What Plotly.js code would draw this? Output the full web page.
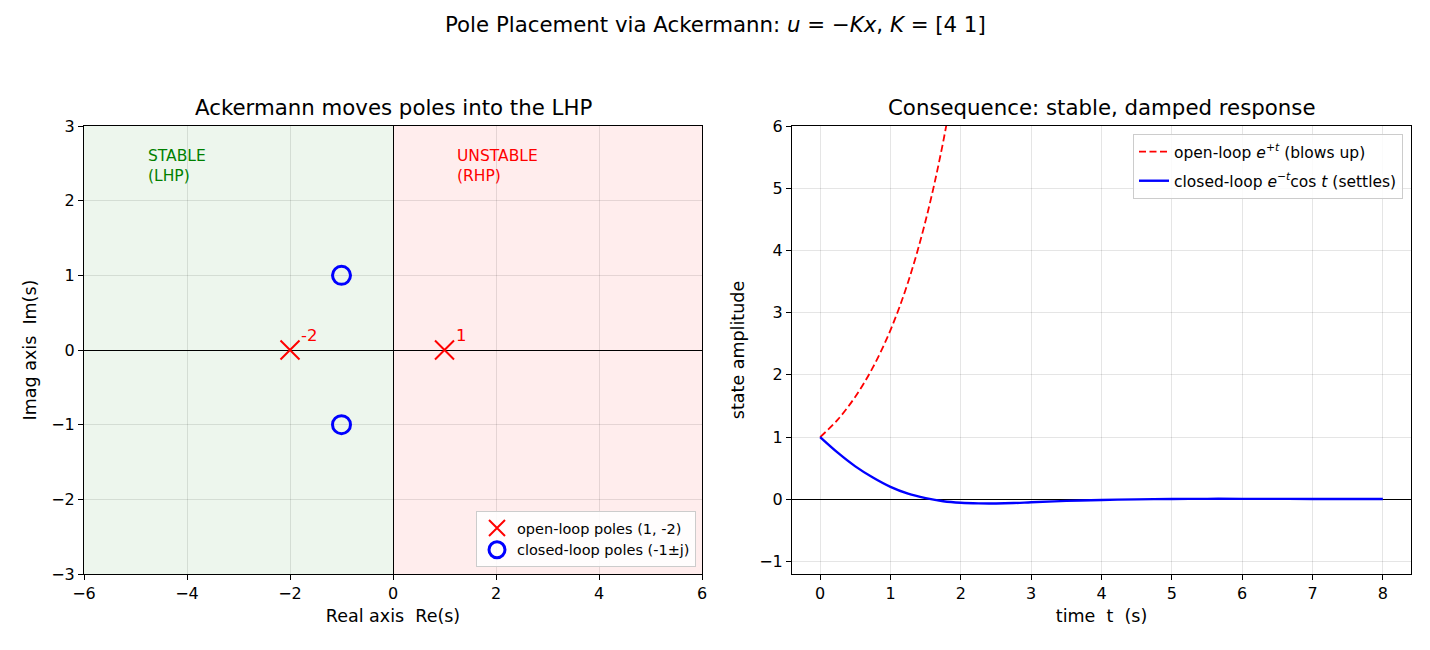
<!DOCTYPE html>
<html>
<head>
<meta charset="utf-8">
<script src="https://cdn.plot.ly/plotly-3.0.1.min.js"></script>
<style>html,body{margin:0;padding:0;background:#fff;}#chart{width:1430px;height:650px;}</style>
</head>
<body>
<div id="chart"></div>
<script>
// ---- data ----
const openLoopPolesRe = [1, -2];
const openLoopPolesIm = [0, 0];
const openLoopPoleLabels = ["1", "-2"];
const closedLoopPolesRe = [-1, -1];
const closedLoopPolesIm = [1, -1];

const tOpen = [0, 0.25, 0.5, 0.75, 1.0, 1.25, 1.5, 1.75, 2.0];
const yOpen = [1.0, 1.28, 1.65, 2.12, 2.72, 3.49, 4.48, 5.75, 7.39];

const tClosed = [0, 0.25, 0.5, 0.75, 1.0, 1.25, 1.5, 1.75, 2.0, 2.25, 2.5, 2.75, 3.0, 3.5, 4.0, 4.5, 5.0, 5.5, 6.0, 7.0, 8.0];
const yClosed = [1.0, 0.75, 0.53, 0.35, 0.20, 0.09, 0.02, -0.03, -0.055, -0.065, -0.066, -0.06, -0.048, -0.025, -0.01, 0.0, 0.005, 0.008, 0.008, 0.006, 0.005];

const leftXTicks = [-6, -4, -2, 0, 2, 4, 6];
const leftYTicks = [-3, -2, -1, 0, 1, 2, 3];
const rightXTicks = [0, 1, 2, 3, 4, 5, 6, 7, 8];
const rightYTicks = [-1, 0, 1, 2, 3, 4, 5, 6];

// ---- styling ----
const FONT = "DejaVu Sans, sans-serif";
const grid = "rgba(0,0,0,0.1)";
const TICK = 16;
const LABEL = 17.5;
const TITLE = 21.3;

const traces = [
  {
    x: openLoopPolesRe, y: openLoopPolesIm, type: "scatter", mode: "markers",
    name: "open-loop poles (1, -2)", xaxis: "x", yaxis: "y", legend: "legend", legendgroup: "a",
    marker: {symbol: "x-thin-open", size: 19, color: "red", line: {color: "red", width: 2}}
  },
  {
    x: closedLoopPolesRe, y: closedLoopPolesIm, type: "scatter", mode: "markers",
    name: "closed-loop poles (-1±j)", xaxis: "x", yaxis: "y", legend: "legend", legendgroup: "b",
    marker: {symbol: "circle-open", size: 18, color: "blue", line: {color: "blue", width: 3}}
  },
  {
    x: tOpen, y: yOpen, type: "scatter", mode: "lines",
    name: "open-loop <i>e</i><sup>+<i>t</i></sup> (blows up)", xaxis: "x2", yaxis: "y2", legend: "legend2", legendgroup: "c",
    line: {color: "red", width: 1.8, dash: "7px,3.5px", shape: "spline"}
  },
  {
    x: tClosed, y: yClosed, type: "scatter", mode: "lines",
    name: "closed-loop <i>e</i><sup>−<i>t</i></sup>cos <i>t</i> (settles)", xaxis: "x2", yaxis: "y2", legend: "legend2", legendgroup: "d",
    line: {color: "blue", width: 2.4, shape: "spline"}
  }
];

function axisBase(extra) {
  return Object.assign({
    showline: true, mirror: true, linecolor: "black", linewidth: 1,
    ticks: "outside", ticklen: 5, tickcolor: "black", tickwidth: 1,
    showgrid: true, gridcolor: grid, gridwidth: 1,
    tickfont: {family: FONT, size: TICK, color: "black"},
    tickmode: "array", zeroline: false, zerolinecolor: "black", zerolinewidth: 1, fixedrange: true
  }, extra);
}

const annotations = [
  {text: "Pole Placement via Ackermann: <i>u</i> = −<i>Kx</i>, <i>K</i> = [4 1]", xref: "paper", yref: "paper",
   x: 0.5, y: 1 - 24/650, xanchor: "center", yanchor: "middle", showarrow: false,
   font: {family: FONT, size: TITLE, color: "black"}},
  {text: "Ackermann moves poles into the LHP", xref: "paper", yref: "paper",
   x: (84 + 702) / 2 / 1430, y: 1 - 107/650, xanchor: "center", yanchor: "middle", showarrow: false,
   font: {family: FONT, size: TITLE, color: "black"}},
  {text: "Consequence: stable, damped response", xref: "paper", yref: "paper",
   x: (792 + 1411) / 2 / 1430, y: 1 - 107/650, xanchor: "center", yanchor: "middle", showarrow: false,
   font: {family: FONT, size: TITLE, color: "black"}},
  {text: "STABLE<br>(LHP)", xref: "x", yref: "y", x: -4.8, y: 2.74, xanchor: "left", yanchor: "top",
   align: "left", showarrow: false, font: {family: FONT, size: 15.5, color: "green"}},
  {text: "UNSTABLE<br>(RHP)", xref: "x", yref: "y", x: 1.2, y: 2.74, xanchor: "left", yanchor: "top",
   align: "left", showarrow: false, font: {family: FONT, size: 15.5, color: "red"}}
];
openLoopPoleLabels.forEach((lab, i) => {
  annotations.push({text: lab, xref: "x", yref: "y", x: openLoopPolesRe[i], y: openLoopPolesIm[i],
    xanchor: "left", yanchor: "bottom", xshift: 9, yshift: 3, showarrow: false,
    font: {family: FONT, size: 16.5, color: "red"}});
});

const layout = {
  width: 1430, height: 650,
  margin: {l: 0, r: 0, t: 0, b: 0},
  paper_bgcolor: "white", plot_bgcolor: "white",
  font: {family: FONT, color: "black"},
  showlegend: true,
  xaxis: axisBase({domain: [84/1430, 702/1430], range: [-6, 6], tickvals: leftXTicks, anchor: "y", zeroline: true,
    title: {text: "Real axis\u00a0\u00a0Re(s)", font: {family: FONT, size: LABEL}, standoff: 7}}),
  yaxis: axisBase({domain: [1 - 574/650, 1 - 126/650], range: [-3, 3], tickvals: leftYTicks, anchor: "x", zeroline: true,
    title: {text: "Imag axis\u00a0\u00a0Im(s)", font: {family: FONT, size: LABEL}, standoff: 10}}),
  xaxis2: axisBase({domain: [792/1430, 1411/1430], range: [-0.4, 8.4], tickvals: rightXTicks, anchor: "y2",
    title: {text: "time\u00a0\u00a0t\u00a0\u00a0(s)", font: {family: FONT, size: LABEL}, standoff: 7}}),
  yaxis2: axisBase({domain: [1 - 574/650, 1 - 126/650], range: [-1.2, 6], tickvals: rightYTicks, anchor: "x2", zeroline: true,
    title: {text: "state amplitude", font: {family: FONT, size: LABEL}, standoff: 10}}),
  legend: {x: 696/1430, y: 1 - 567/650, xanchor: "right", yanchor: "bottom",
    bgcolor: "rgba(255,255,255,0.85)", bordercolor: "#cccccc", borderwidth: 1,
    font: {family: FONT, size: 14.5, color: "black"}, tracegroupgap: 0},
  legend2: {x: 1403/1430, y: 1 - 134/650, xanchor: "right", yanchor: "top",
    bgcolor: "rgba(255,255,255,0.85)", bordercolor: "#cccccc", borderwidth: 1,
    font: {family: FONT, size: 15.5, color: "black"}, tracegroupgap: 6},
  shapes: [
    {type: "rect", xref: "x", yref: "y", x0: -6, x1: 0, y0: -3, y1: 3, layer: "below",
     fillcolor: "rgba(0,128,0,0.07)", line: {width: 0}},
    {type: "rect", xref: "x", yref: "y", x0: 0, x1: 6, y0: -3, y1: 3, layer: "below",
     fillcolor: "rgba(255,0,0,0.07)", line: {width: 0}}
  ],
  annotations: annotations
};

Plotly.newPlot("chart", traces, layout, {displayModeBar: false, staticPlot: true});
</script>
</body>
</html>
